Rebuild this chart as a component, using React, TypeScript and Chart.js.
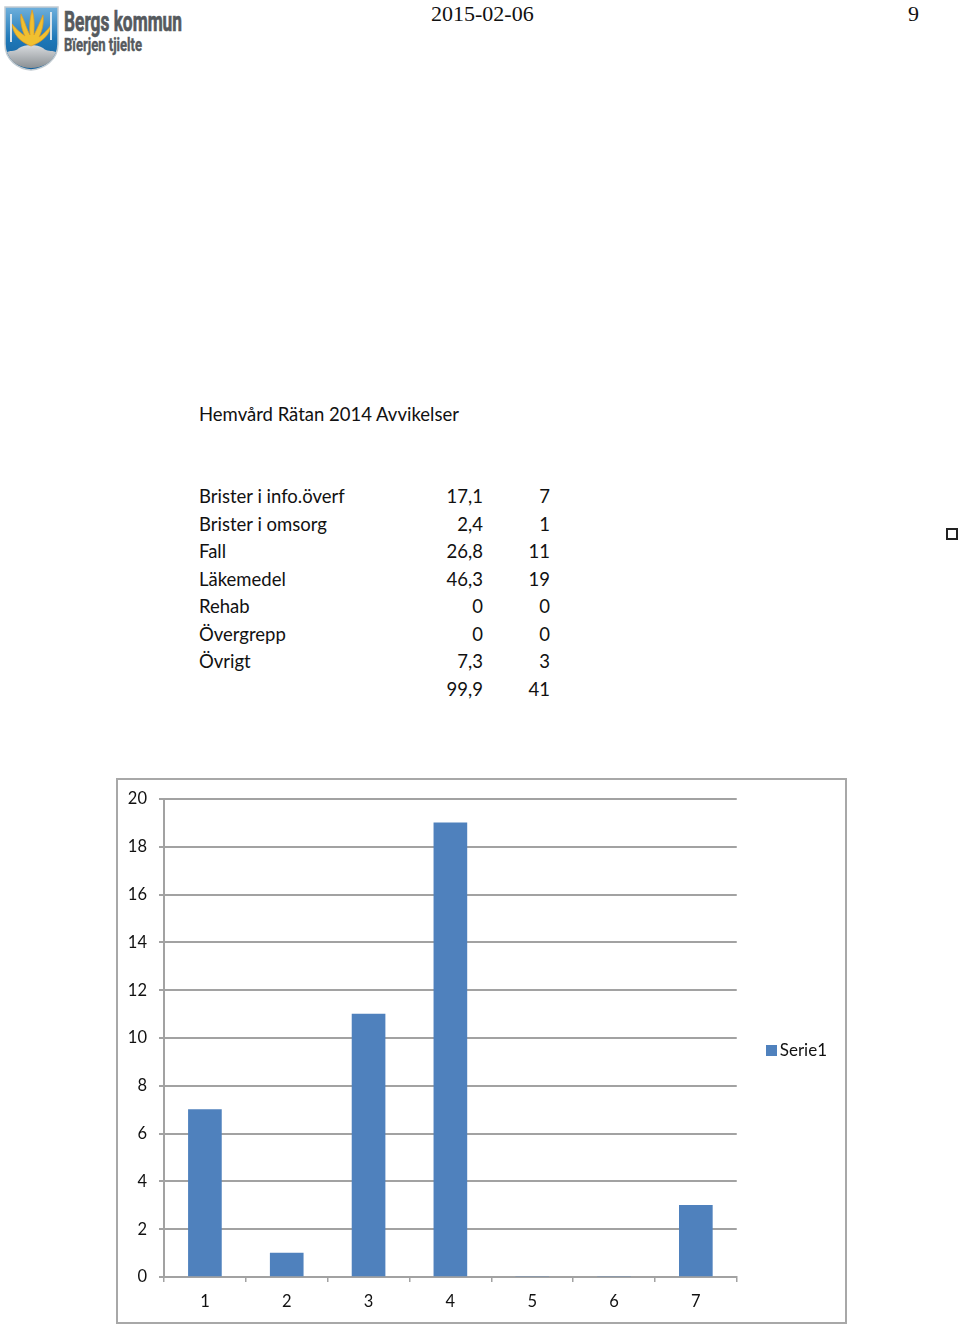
import React, { useEffect, useRef } from "react";
import { Chart, registerables } from "chart.js";

Chart.register(...registerables);

const title = "Hemvård Rätan 2014 Avvikelser";
const categories = ["Brister i info.överf", "Brister i omsorg", "Fall", "Läkemedel", "Rehab", "Övergrepp", "Övrigt", ""];
const percents = ["17,1", "2,4", "26,8", "46,3", "0", "0", "7,3", "99,9"];
const counts = ["7", "1", "11", "19", "0", "0", "3", "41"];
const xLabels = ["1", "2", "3", "4", "5", "6", "7"];
const serie1 = [7, 1, 11, 19, 0, 0, 3];
const seriesName = "Serie1";
const yMax = 20;
const yStep = 2;

const BODY_FONT = "Lato, 'Noto Sans', sans-serif";
const GRID = "#a2a2a2";
const BAR = "#4f81bd";

function abs(left: number, top: number, extra: React.CSSProperties = {}): React.CSSProperties {
  return { position: "absolute", left, top, whiteSpace: "nowrap", ...extra };
}

function Logo() {
  const flames = [
    "M31 46 C20 42 13 34 12 24 C17 30 21 33 25 36 C22 30 20 22 21 14 C25 22 27 30 30 35 C29 26 30 18 32 10 C35 18 34 28 34 35 C37 29 40 22 43 15 C44 24 42 31 39 37 C42 35 47 31 51 25 C50 35 42 42 31 46 Z",
  ];
  return (
    <svg style={{ position: "absolute", left: 0, top: 0 }} width={190} height={76} viewBox="0 0 190 76">
      <defs>
        <linearGradient id="sh" x1="0" y1="0" x2="0" y2="1">
          <stop offset="0" stopColor="#6fb0dc" />
          <stop offset="0.5" stopColor="#1f78b8" />
          <stop offset="1" stopColor="#14609c" />
        </linearGradient>
        <linearGradient id="gr" x1="0" y1="0" x2="0" y2="1">
          <stop offset="0" stopColor="#d8dbde" />
          <stop offset="1" stopColor="#8b9094" />
        </linearGradient>
      </defs>
      <path d="M5 7 H58 V44 C58 60 44 69 31 70 C18 69 5 60 5 44 Z" fill="url(#sh)" stroke="#c3ccd2" strokeWidth={1.5} />
      <path d="M7 52 C12 50 15 52 19 48 C25 44 37 44 43 48 C47 52 51 50 56 52 C52 63 42 68 31 68 C20 68 11 63 7 52 Z" fill="url(#gr)" />
      {flames.map((d, i) => <path key={i} d={d} fill="#f0c030" stroke="#e59a20" strokeWidth={0.7} />)}
      <path d="M11 14 V42 M51 12 V40" stroke="#e8eef2" strokeWidth={1.8} />
      <text x={64} y={31} textLength={118} lengthAdjust="spacingAndGlyphs" fontFamily="'Liberation Sans Narrow', Roboto, sans-serif" fontWeight={700} fontSize={28} fill="#565a5e" stroke="#565a5e" strokeWidth={0.7}>Bergs kommun</text>
      <text x={64} y={51} textLength={78} lengthAdjust="spacingAndGlyphs" fontFamily="'Liberation Sans Narrow', Roboto, sans-serif" fontWeight={700} fontSize={18} fill="#565a5e" stroke="#565a5e" strokeWidth={0.4}>Bïerjen tjielte</text>
    </svg>
  );
}

// Legend swatch whose transparent left part brings the label close to the square.
function legendSwatch(): HTMLCanvasElement {
  const c = document.createElement("canvas");
  c.width = 17;
  c.height = 11;
  const g = c.getContext("2d")!;
  g.fillStyle = BAR;
  g.fillRect(6, 0, 11, 11);
  return c;
}

const legendPlacement = {
  id: "legendPlacement",
  afterLayout(chart: any) {
    const l = chart.legend;
    const dx = chart.chartArea.right + 23 - l.left;
    l.left += dx;
    l.right += dx;
    l.top -= 10;
    l.bottom -= 10;
  },
};

function BarChart() {
  const ref = useRef<HTMLCanvasElement | null>(null);
  useEffect(() => {
    if (!ref.current) return;
    const font = { family: BODY_FONT, size: 16.5 };
    const chart = new Chart(ref.current, {
      type: "bar",
      data: {
        labels: xLabels,
        datasets: [
          { label: seriesName, data: serie1, backgroundColor: BAR, borderWidth: 0, barThickness: 33 },
        ],
      },
      plugins: [legendPlacement],
      options: {
        animation: false,
        responsive: false,
        layout: { padding: { top: 19, left: 0, right: 31, bottom: 0 } },
        plugins: {
          title: { display: false },
          tooltip: { enabled: false },
          legend: {
            display: true,
            position: "right",
            labels: {
              usePointStyle: true,
              pointStyle: legendSwatch(),
              pointStyleWidth: 5.5,
              boxHeight: 11,
              padding: 6,
              color: "#111",
              font: { family: BODY_FONT, size: 17 },
            },
          },
        },
        scales: {
          x: {
            offset: true,
            afterFit: (a: any) => { a.height = 45; a.paddingLeft = 0; a.paddingRight = 0; },
            grid: { offset: true, drawOnChartArea: false, drawTicks: true, tickLength: 5, color: GRID, lineWidth: 1.5 },
            border: { color: GRID, width: 2 },
            ticks: { color: "#111", font, padding: 10, maxRotation: 0 },
          },
          y: {
            min: 0,
            max: yMax,
            afterFit: (a: any) => { a.width = 46; a.paddingTop = 0; a.paddingBottom = 0; },
            grid: { color: GRID, lineWidth: 2, tickLength: 5 },
            border: { color: GRID, width: 2 },
            ticks: { stepSize: yStep, color: "#111", font, padding: 12 },
          },
        },
      },
    });
    return () => chart.destroy();
  }, []);
  return (
    <div style={{ position: "absolute", left: 116, top: 778, width: 727, height: 542, border: "2px solid #a8a8a8", background: "#fff" }}>
      <canvas ref={ref} width={727} height={542} style={{ display: "block" }} />
    </div>
  );
}

export default function App() {
  const text: React.CSSProperties = { fontFamily: BODY_FONT, fontSize: 18.5, lineHeight: "24px", color: "#111" };
  const serif: React.CSSProperties = { fontFamily: "'Liberation Serif', serif", fontSize: 22, lineHeight: "26px", color: "#111" };
  return (
    <div style={{ position: "absolute", left: 0, top: 0, width: 960, height: 1326, overflow: "hidden", background: "#fff" }}>
      <Logo />
      <div style={abs(431, 1, serif)}>2015-02-06</div>
      <div style={abs(908, 1, serif)}>9</div>
      <div style={abs(199, 402, text)}>{title}</div>
      {categories.map((c, i) => (
        <React.Fragment key={i}>
          <div style={abs(199, 484 + i * 27.5, text)}>{c}</div>
          <div style={abs(383, 484 + i * 27.5, { ...text, width: 100, textAlign: "right" })}>{percents[i]}</div>
          <div style={abs(450, 484 + i * 27.5, { ...text, width: 100, textAlign: "right" })}>{counts[i]}</div>
        </React.Fragment>
      ))}
      <div style={{ position: "absolute", left: 946, top: 528, width: 8, height: 8, border: "2px solid #222" }} />
      <BarChart />
    </div>
  );
}
